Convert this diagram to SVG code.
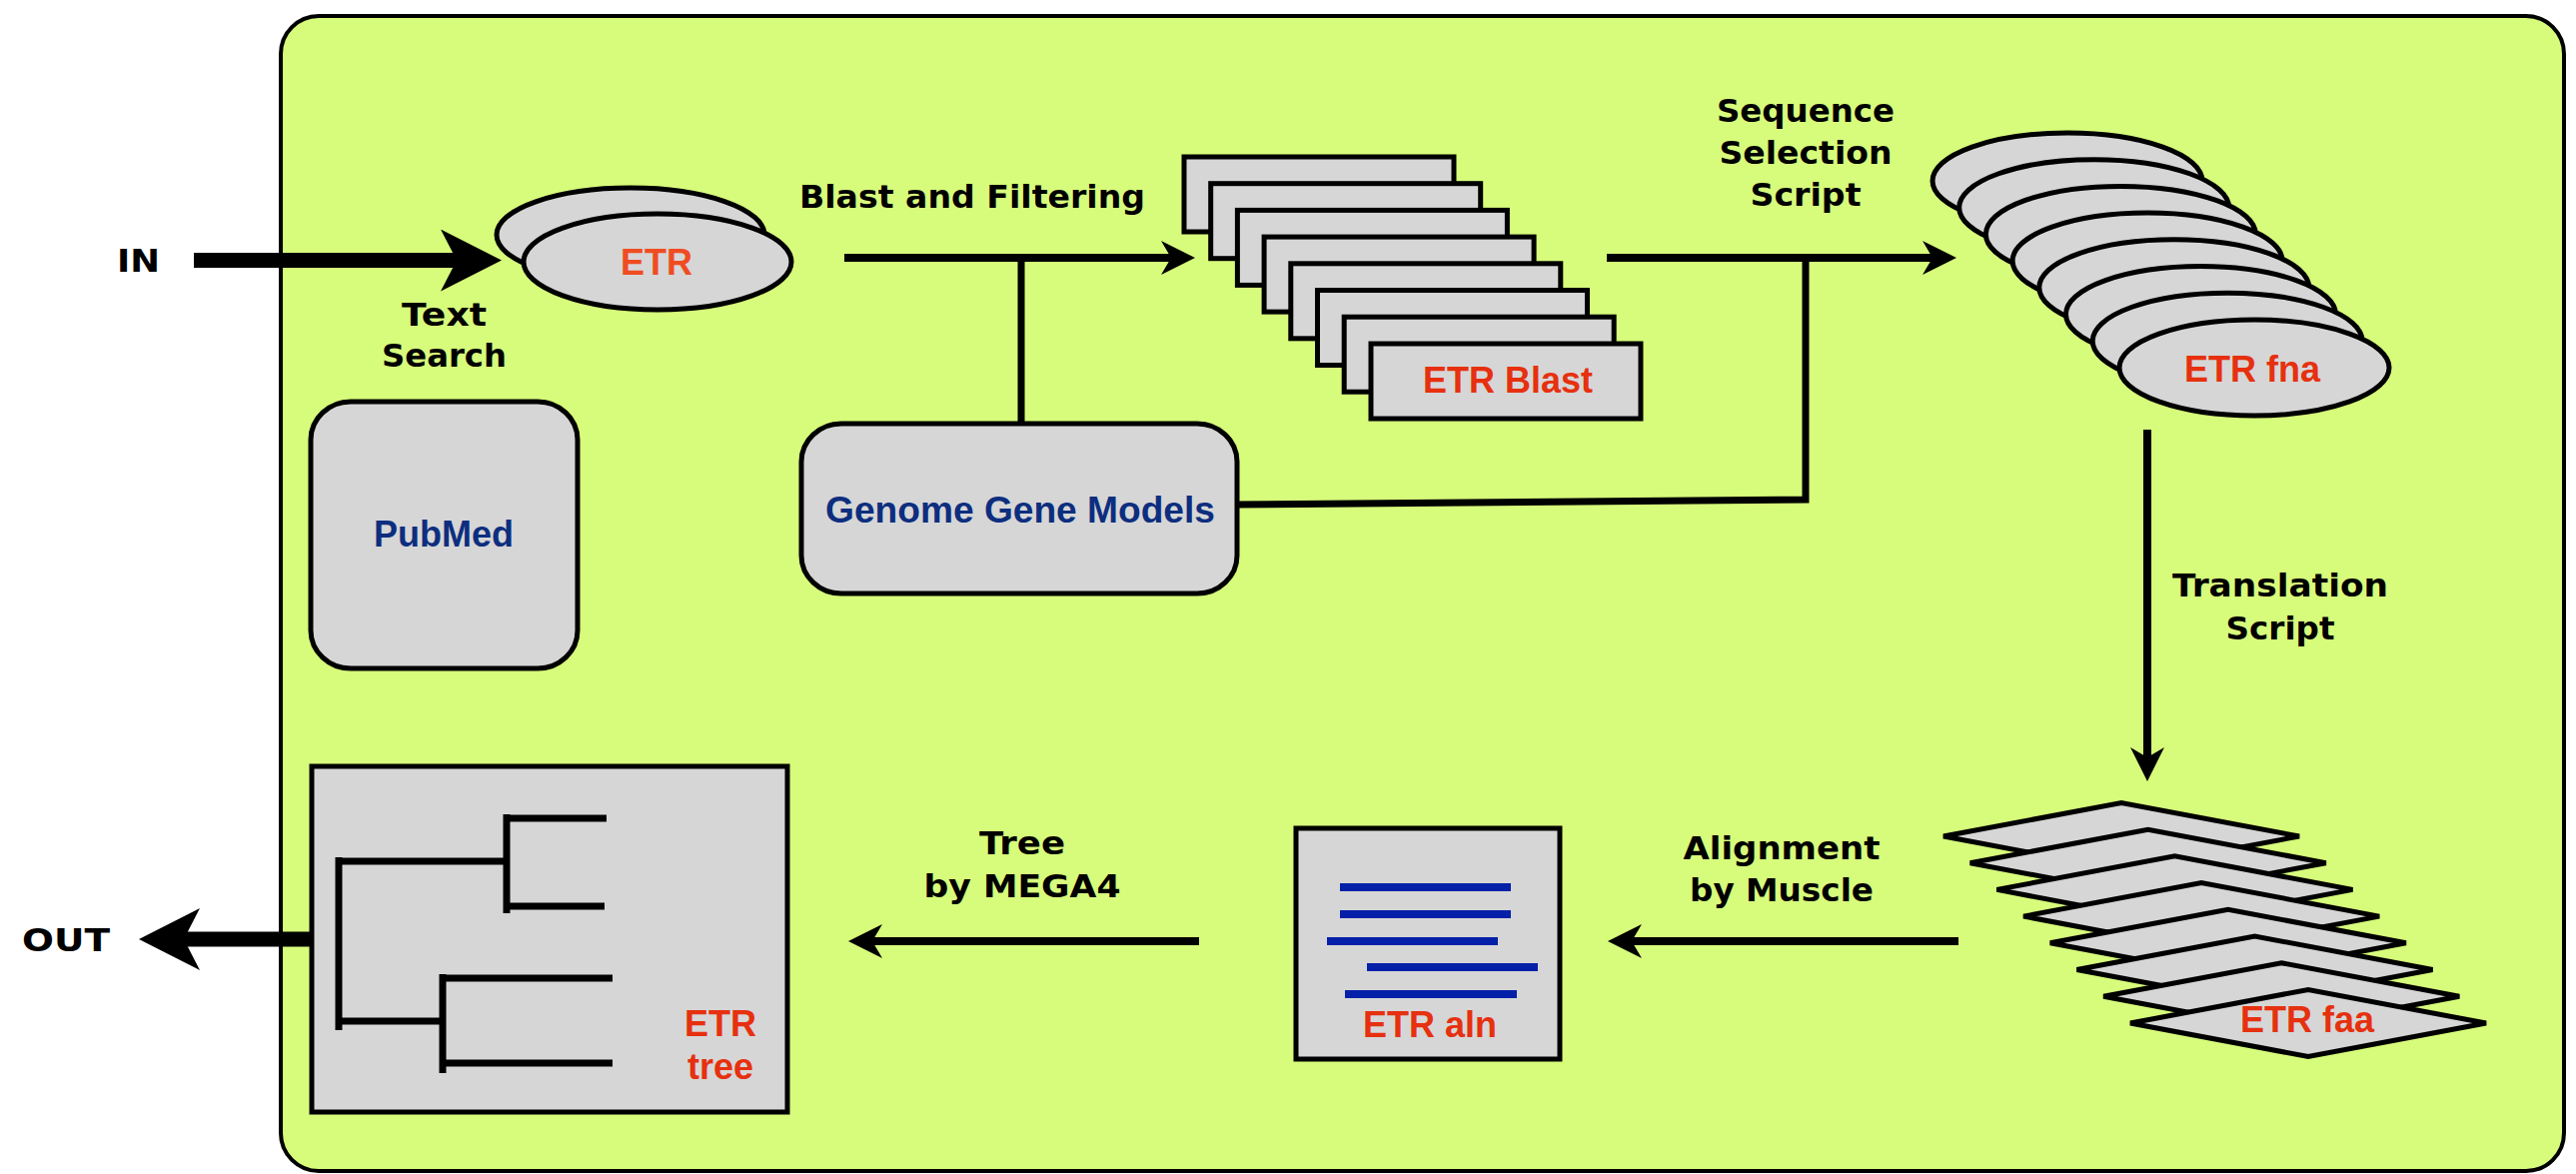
<svg xmlns="http://www.w3.org/2000/svg" width="2578" height="1175" viewBox="0 0 2578 1175">
<style>
.lbl{font-family:"DejaVu Sans",Lato,"Liberation Sans",sans-serif;font-weight:bold;font-size:32px;fill:#000;text-anchor:middle}
.red{font-family:"Liberation Sans",Arial,sans-serif;font-weight:bold;font-size:36px;fill:#e6300f;text-anchor:middle}
.blue{font-family:"Liberation Sans",Arial,sans-serif;font-weight:bold;font-size:36px;fill:#0d2e7f;text-anchor:middle}
.box{fill:#d6d6d6;stroke:#000;stroke-width:5}
.thin{stroke:#000;stroke-width:8;fill:none}
.stem{stroke:#000;stroke-width:7;fill:none}
.thick{stroke:#000;stroke-width:15;fill:none}
.tree{stroke:#000;stroke-width:7;fill:none}
.aln{stroke:#0520a8;stroke-width:8}
</style>
<defs>
<marker id="ah" markerUnits="userSpaceOnUse" viewBox="0 -17 34 34" markerWidth="34" markerHeight="34" refX="10" refY="0" orient="auto">
<path d="M0,-17 L34,0 L0,17 L10,0 Z" fill="#000"/>
</marker>
<marker id="bigah" markerUnits="userSpaceOnUse" viewBox="0 -31 61 62" markerWidth="61" markerHeight="62" refX="16" refY="0" orient="auto">
<path d="M0,-31 L61,0 L0,31 L16,0 Z" fill="#000"/>
</marker>
</defs>
<rect x="0" y="0" width="2578" height="1175" fill="#fff"/>
<g id="panel">
<rect x="281" y="16" width="2285" height="1156" rx="38" ry="38" fill="#d7fb7b" stroke="#000" stroke-width="4"/>
</g>
<g id="connectors">
<line class="thick" x1="194" y1="260.5" x2="457" y2="260.5" marker-end="url(#bigah)"/>
<line class="thick" x1="312" y1="940" x2="184" y2="940" marker-end="url(#bigah)"/>
<line class="thin" x1="845" y1="258" x2="1172" y2="258" marker-end="url(#ah)"/>
<line class="stem" x1="1022" y1="258" x2="1022" y2="426"/>
<line class="thin" x1="1608" y1="258" x2="1934" y2="258" marker-end="url(#ah)"/>
<polyline class="stem" points="1236,505 1807,500 1807,258"/>
<line class="thin" x1="2149" y1="430" x2="2149" y2="758" marker-end="url(#ah)"/>
<line class="thin" x1="1960" y1="942" x2="1633" y2="942" marker-end="url(#ah)"/>
<line class="thin" x1="1200" y1="942" x2="873" y2="942" marker-end="url(#ah)"/>
</g>
<g id="labels">
<text class="lbl" x="138.5" y="272" textLength="43" lengthAdjust="spacingAndGlyphs">IN</text>
<text class="lbl" x="66" y="952" textLength="88" lengthAdjust="spacingAndGlyphs">OUT</text>
<text class="lbl" x="444.5" y="326" textLength="85" lengthAdjust="spacingAndGlyphs">Text</text>
<text class="lbl" x="444.5" y="367" textLength="125" lengthAdjust="spacingAndGlyphs">Search</text>
<text class="lbl" x="973" y="208" textLength="346" lengthAdjust="spacingAndGlyphs">Blast and Filtering</text>
<text class="lbl" x="1807" y="122" textLength="178" lengthAdjust="spacingAndGlyphs">Sequence</text>
<text class="lbl" x="1807" y="164" textLength="173" lengthAdjust="spacingAndGlyphs">Selection</text>
<text class="lbl" x="1807" y="206" textLength="111" lengthAdjust="spacingAndGlyphs">Script</text>
<text class="lbl" x="2282" y="597" textLength="216" lengthAdjust="spacingAndGlyphs">Translation</text>
<text class="lbl" x="2282" y="640" textLength="109" lengthAdjust="spacingAndGlyphs">Script</text>
<text class="lbl" x="1783" y="860" textLength="197" lengthAdjust="spacingAndGlyphs">Alignment</text>
<text class="lbl" x="1783" y="902" textLength="184" lengthAdjust="spacingAndGlyphs">by Muscle</text>
<text class="lbl" x="1023" y="855" textLength="86" lengthAdjust="spacingAndGlyphs">Tree</text>
<text class="lbl" x="1023" y="898" textLength="197" lengthAdjust="spacingAndGlyphs">by MEGA4</text>
</g>
<g id="etr">
<ellipse class="box" cx="631" cy="235" rx="134" ry="47" stroke-width="4.5"/>
<ellipse class="box" cx="658" cy="262" rx="134" ry="48" stroke-width="4.5"/>
<text class="red" x="657" y="275" font-size="34" style="fill:#f04c22">ETR</text>
</g>
<g id="pubmed">
<rect class="box" x="311" y="402" width="267" height="267" rx="40" ry="38"/>
<text class="blue" x="444" y="547">PubMed</text>
</g>
<g id="genome">
<rect class="box" x="802" y="424" width="436" height="170" rx="40" ry="38"/>
<text class="blue" x="1021" y="523" textLength="390" lengthAdjust="spacingAndGlyphs">Genome Gene Models</text>
</g>
<g id="etr-blast">
<rect class="box" x="1185" y="157" width="270" height="75"/>
<rect class="box" x="1211.7" y="183.7" width="270" height="75"/>
<rect class="box" x="1238.4" y="210.4" width="270" height="75"/>
<rect class="box" x="1265.1" y="237.1" width="270" height="75"/>
<rect class="box" x="1291.8" y="263.8" width="270" height="75"/>
<rect class="box" x="1318.5" y="290.5" width="270" height="75"/>
<rect class="box" x="1345.2" y="317.2" width="270" height="75"/>
<rect class="box" x="1372" y="344" width="270" height="75"/>
<text class="red" x="1509" y="393">ETR Blast</text>
</g>
<g id="etr-fna">
<ellipse class="box" cx="2069" cy="181" rx="135" ry="48" stroke-width="4.5"/>
<ellipse class="box" cx="2095.7" cy="207.7" rx="135" ry="48" stroke-width="4.5"/>
<ellipse class="box" cx="2122.4" cy="234.4" rx="135" ry="48" stroke-width="4.5"/>
<ellipse class="box" cx="2149.1" cy="261.1" rx="135" ry="48" stroke-width="4.5"/>
<ellipse class="box" cx="2175.8" cy="287.8" rx="135" ry="48" stroke-width="4.5"/>
<ellipse class="box" cx="2202.5" cy="314.5" rx="135" ry="48" stroke-width="4.5"/>
<ellipse class="box" cx="2229.2" cy="341.2" rx="135" ry="48" stroke-width="4.5"/>
<ellipse class="box" cx="2256" cy="368" rx="135" ry="48" stroke-width="4.5"/>
<text class="red" x="2254" y="382">ETR fna</text>
</g>
<g id="etr-faa">
<polygon class="box" points="1945,837 2123,803.5 2301,837 2123,870.5"/>
<polygon class="box" points="1971.7,863.7 2149.7,830.2 2327.7,863.7 2149.7,897.2"/>
<polygon class="box" points="1998.4,890.4 2176.4,856.9 2354.4,890.4 2176.4,923.9"/>
<polygon class="box" points="2025.1,917.1 2203.1,883.6 2381.1,917.1 2203.1,950.6"/>
<polygon class="box" points="2051.8,943.8 2229.8,910.3 2407.8,943.8 2229.8,977.3"/>
<polygon class="box" points="2078.5,970.5 2256.5,937 2434.5,970.5 2256.5,1004"/>
<polygon class="box" points="2105.2,997.2 2283.2,963.7 2461.2,997.2 2283.2,1030.7"/>
<polygon class="box" points="2132,1024 2310,990.5 2488,1024 2310,1057.5"/>
<text class="red" x="2309" y="1033">ETR faa</text>
</g>
<g id="etr-aln">
<rect class="box" x="1297" y="829" width="264" height="231"/>
<line class="aln" x1="1341" y1="888" x2="1512" y2="888"/>
<line class="aln" x1="1341" y1="915" x2="1512" y2="915"/>
<line class="aln" x1="1328" y1="942" x2="1499" y2="942"/>
<line class="aln" x1="1368" y1="968" x2="1539" y2="968"/>
<line class="aln" x1="1346" y1="995" x2="1518" y2="995"/>
<text class="red" x="1431" y="1038">ETR aln</text>
</g>
<g id="etr-tree">
<rect class="box" x="312" y="767" width="476" height="346"/>
<line class="tree" x1="339" y1="858" x2="339" y2="1031"/>
<line class="tree" x1="339" y1="862" x2="507" y2="862"/>
<line class="tree" x1="507" y1="815" x2="507" y2="914"/>
<line class="tree" x1="507" y1="819" x2="607" y2="819"/>
<line class="tree" x1="507" y1="907" x2="605" y2="907"/>
<line class="tree" x1="339" y1="1022" x2="443" y2="1022"/>
<line class="tree" x1="443" y1="975" x2="443" y2="1074"/>
<line class="tree" x1="443" y1="979" x2="613" y2="979"/>
<line class="tree" x1="443" y1="1064" x2="613" y2="1064"/>
<text class="red" x="721" y="1037">ETR</text>
<text class="red" x="721" y="1080">tree</text>
</g>
</svg>
